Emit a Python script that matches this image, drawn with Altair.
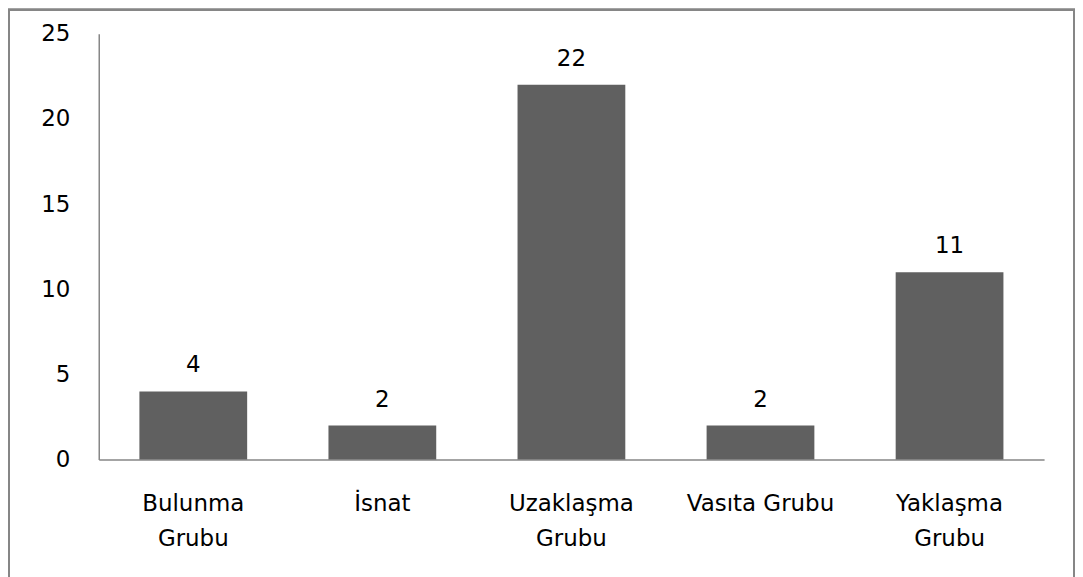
import altair as alt
import pandas as pd

categories = ["Bulunma|Grubu", "İsnat", "Uzaklaşma|Grubu", "Vasıta Grubu", "Yaklaşma|Grubu"]
values = [4, 2, 22, 2, 11]

df = pd.DataFrame({"cat": categories, "val": values})

FONT = "DejaVu Sans"
W, H = 948, 427

x = alt.X("cat:N", sort=categories, title=None,
          scale=alt.Scale(paddingInner=0.43, paddingOuter=0.215),
          axis=alt.Axis(labelAngle=0, labelExpr="split(datum.value, '|')",
                        labelFont=FONT, labelFontSize=23, labelColor="#000000",
                        labelLineHeight=35, labelPadding=33, ticks=False,
                        domainColor="#868686", domainWidth=1.5, labelBaseline="top"))
y = alt.Y("val:Q", title=None,
          scale=alt.Scale(domain=[0, 25], nice=False),
          axis=alt.Axis(values=[0, 5, 10, 15, 20, 25], grid=False, ticks=False,
                        labelFont=FONT, labelFontSize=23, labelColor="#000000",
                        labelPadding=29, domainColor="#868686", domainWidth=1.5))

bars = alt.Chart(df).mark_bar(color="#606060").encode(x=x, y=y)
labels = alt.Chart(df).mark_text(dy=-14, baseline="bottom", font=FONT, fontSize=23,
                                 color="#000000").encode(x=x, y=y, text="val:Q")
border = alt.Chart(df).mark_rect(filled=False, stroke="#868686", strokeWidth=2).encode(
    x=alt.value(-90), x2=alt.value(978), y=alt.value(-24), y2=alt.value(620))

chart = alt.layer(border, bars, labels).properties(
    width=W, height=H,
    autosize=alt.AutoSizeParams(type="none"),
    padding={"left": 91, "top": 25, "right": 31, "bottom": 117},
).configure_view(stroke=None)

chart.save("out.html", embed_options={"renderer": "svg", "actions": False})
